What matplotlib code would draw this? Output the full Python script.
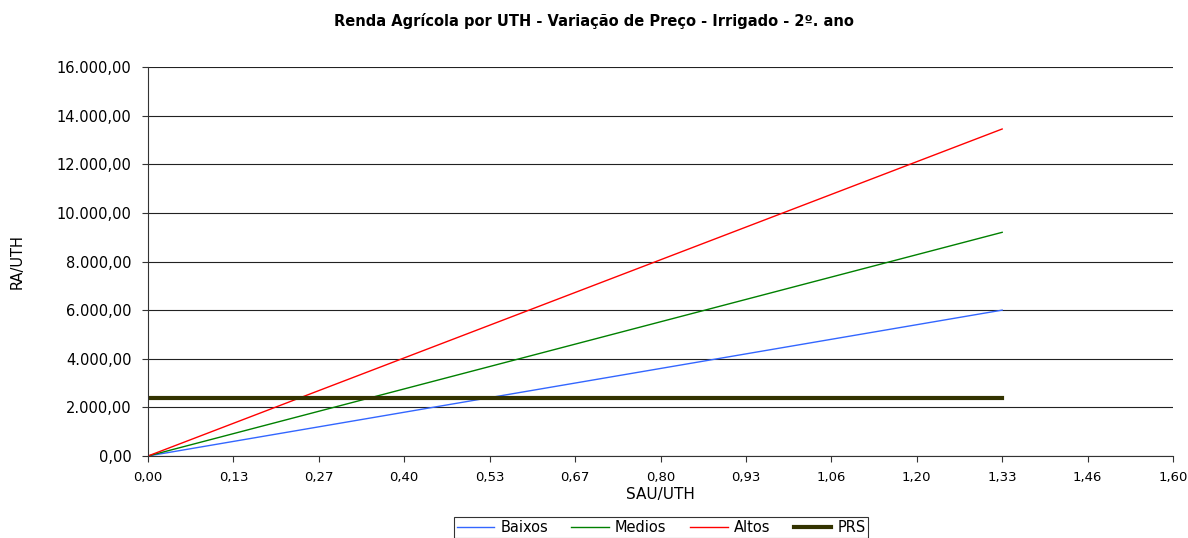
import matplotlib.pyplot as plt
from matplotlib.ticker import FuncFormatter

# SAU/UTH (x) and RA/UTH values for each price scenario
sau_uth = [0.0, 1.33]
baixos = [0.0, 6000.0]
medios = [0.0, 9200.0]
altos = [0.0, 13450.0]
prs = [2385.0, 2385.0]

x_ticks = [round(0.133 * i, 3) for i in range(13)]
y_ticks = list(range(0, 16001, 2000))

plt.rcParams['font.family'] = ['DejaVu Sans']

fig = plt.figure(figsize=(11.88, 5.38), dpi=100)
ax = fig.add_axes([148 / 1188, 1 - 456 / 538, (1173 - 148) / 1188, (456 - 67) / 538])

ax.plot(sau_uth, baixos, color='#3366FF', lw=1.0, label='Baixos')
ax.plot(sau_uth, medios, color='#008000', lw=1.0, label='Medios')
ax.plot(sau_uth, altos, color='#FF0000', lw=1.0, label='Altos')
ax.plot(sau_uth, prs, color='#333300', lw=3.0, label='PRS')

ax.set_xlim(0, 1.596)
ax.set_ylim(0, 16000)
ax.set_xticks(x_ticks)
ax.set_yticks(y_ticks)


def br_fmt(v, pos):
    s = f"{v:,.2f}"
    return s.replace(',', 'X').replace('.', ',').replace('X', '.')


ax.xaxis.set_major_formatter(FuncFormatter(lambda v, p: f"{v + 1e-9:.2f}".replace('.', ',')))
ax.yaxis.set_major_formatter(FuncFormatter(br_fmt))
ax.tick_params(axis='y', direction='out', length=4, width=0.8, color='#333333', labelsize=10.5, pad=8)
ax.tick_params(axis='x', direction='out', length=4, width=0.8, color='#333333', labelsize=9.5, pad=7)

ax.yaxis.grid(True, color='#222222', lw=0.8)
ax.set_axisbelow(True)
for s in ['top', 'right']:
    ax.spines[s].set_visible(False)
for s in ['left', 'bottom']:
    ax.spines[s].set_color('#333333')
    ax.spines[s].set_linewidth(0.8)

ax.set_xlabel('SAU/UTH', fontsize=11)
ax.xaxis.set_label_coords(0.5, (456 - 494) / 389, transform=ax.transAxes)
ax.xaxis.label.set_va('center')
ax.set_ylabel('RA/UTH', fontsize=10.5)
ax.yaxis.set_label_coords((17 - 148) / 1025, 0.5)
ax.yaxis.label.set_va('center')

fig.text(0.5, 1 - 21 / 538, 'Renda Agrícola por UTH - Variação de Preço - Irrigado - 2º. ano',
         ha='center', va='center', fontsize=10.5, fontweight='bold')

leg = fig.legend(loc='upper center', bbox_to_anchor=(661 / 1188, 1 - 517 / 538), ncol=4, fontsize=10.5,
                 frameon=True, fancybox=False, edgecolor='black', handlelength=2.6,
                 columnspacing=1.6, handletextpad=0.4, borderpad=0.2, borderaxespad=0)
leg.get_frame().set_linewidth(0.8)

fig.savefig('out.png', dpi=100)
